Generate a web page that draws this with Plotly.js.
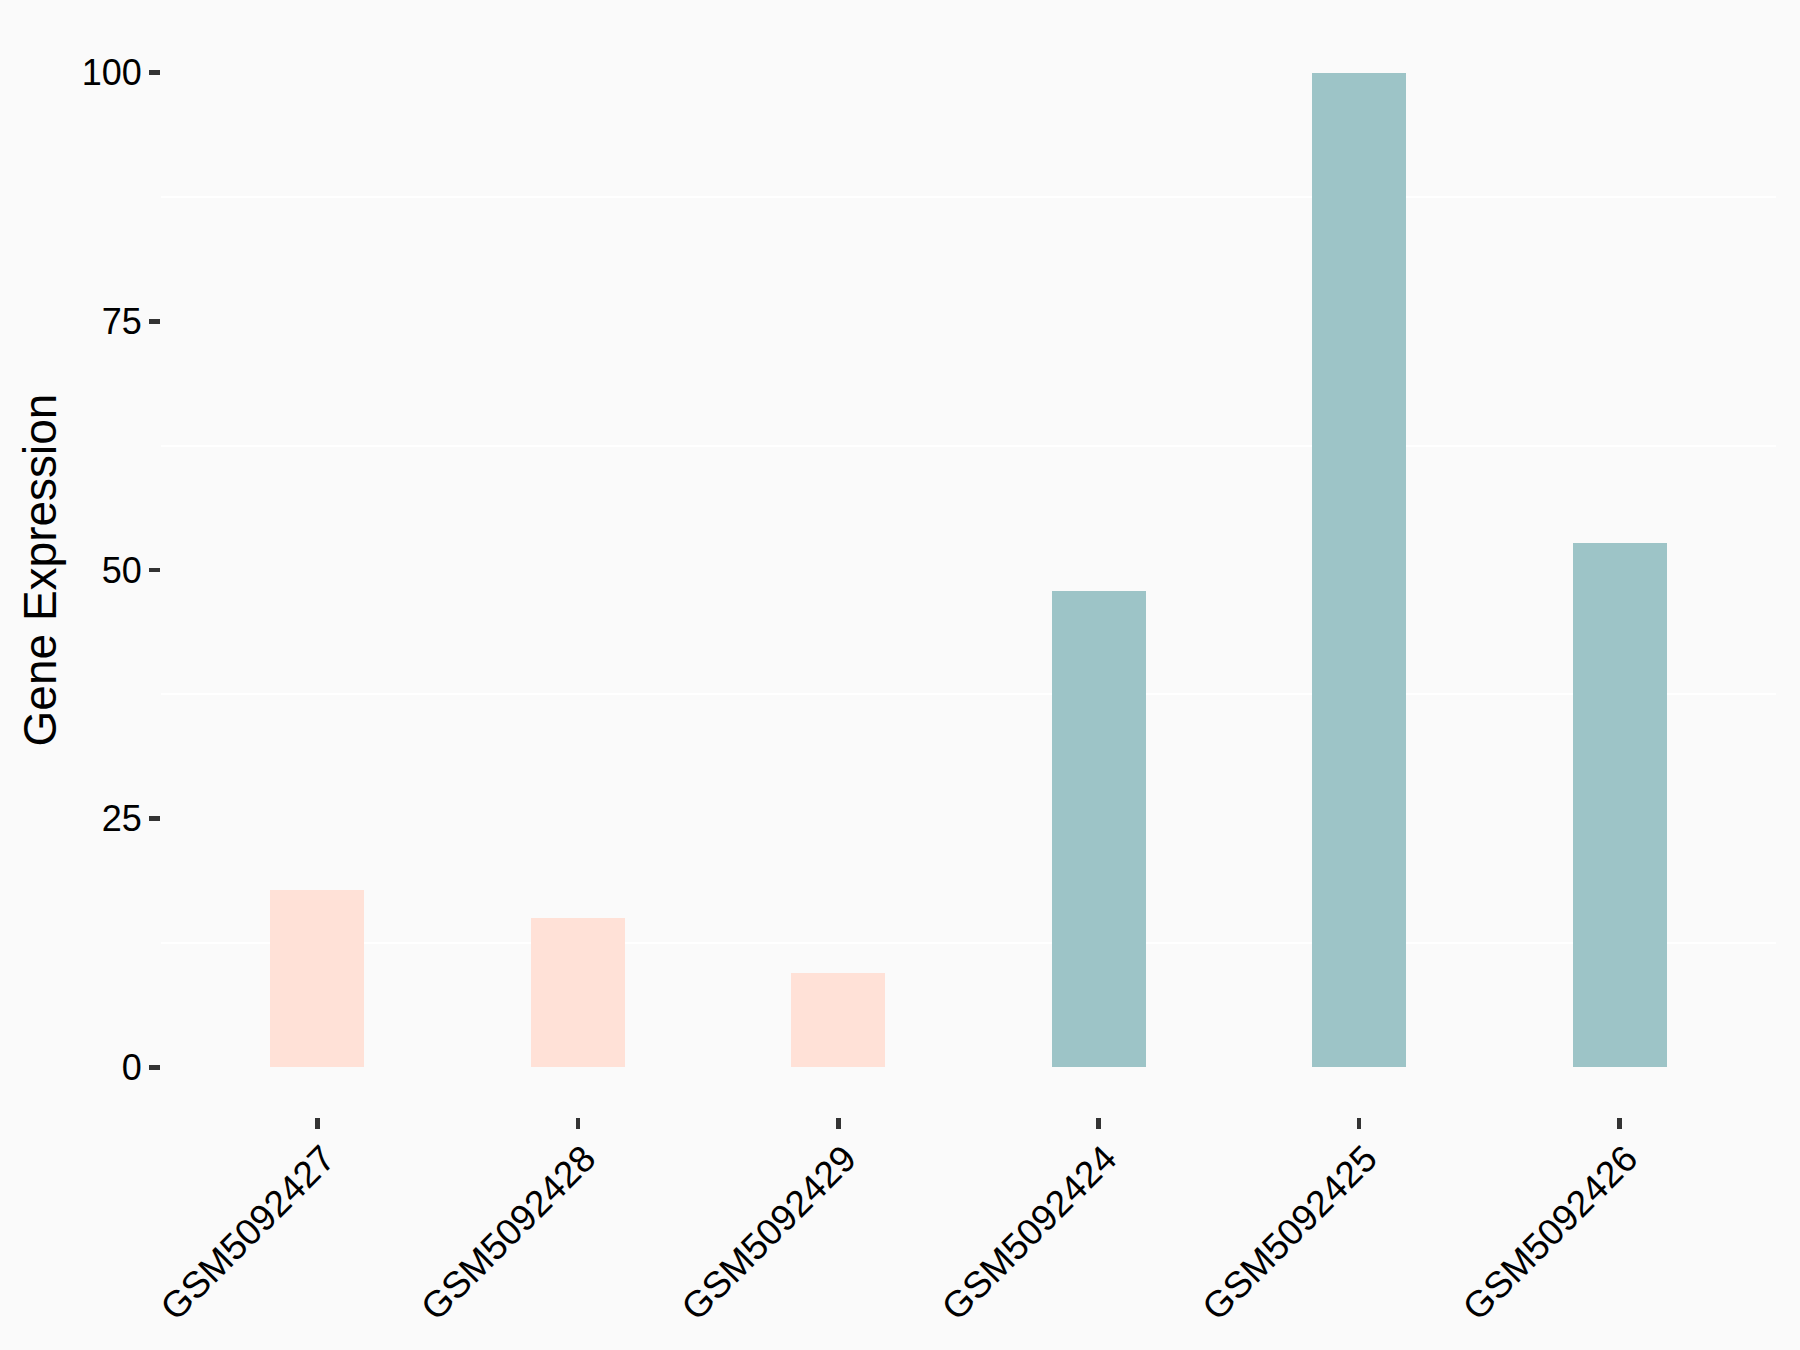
<!DOCTYPE html>
<html>
<head>
<meta charset="utf-8">
<script src="https://cdn.plot.ly/plotly-3.0.1.min.js"></script>
<style>html,body{margin:0;padding:0;background:#FAFAFA;}</style>
</head>
<body>
<div id="chart" style="width:1800px;height:1350px;"></div>
<script>
const samples = ["GSM5092427", "GSM5092428", "GSM5092429", "GSM5092424", "GSM5092425", "GSM5092426"];
const expression = [17.8, 15.0, 9.5, 47.9, 100, 52.7];
const groups = ["A", "A", "A", "B", "B", "B"];
const groupColors = {A: "#FFE1D7", B: "#9DC4C7"};
const yTicks = [0, 25, 50, 75, 100];

const trace = {
  type: "bar",
  x: samples,
  y: expression,
  width: 0.36,
  marker: {color: groups.map(g => groupColors[g]), line: {width: 0}},
  hoverinfo: "x+y"
};

const layout = {
  width: 1800,
  height: 1350,
  paper_bgcolor: "#FAFAFA",
  plot_bgcolor: "#FAFAFA",
  showlegend: false,
  margin: {l: 160.5, r: 24, t: 22.5, b: 232.6, pad: 0},
  font: {family: "Liberation Sans, Arial, sans-serif", color: "#000000"},
  xaxis: {
    type: "category",
    range: [-0.6, 5.6],
    showgrid: false,
    zeroline: false,
    showline: false,
    ticks: "outside",
    ticklen: 11,
    tickwidth: 4.5,
    tickcolor: "#333333",
    tickangle: -45,
    ticklabelshift: 7,
    ticklabelstandoff: -7,
    tickfont: {size: 37, color: "#000000"}
  },
  yaxis: {
    range: [-5, 105],
    tickvals: yTicks,
    ticktext: yTicks.map(String),
    showgrid: false,
    zeroline: false,
    showline: false,
    ticks: "outside",
    ticklen: 11,
    tickwidth: 4.5,
    tickcolor: "#333333",
    tickfont: {size: 36, color: "#000000"},
    minor: {tick0: 12.5, dtick: 25, showgrid: true, gridcolor: "#FFFFFF", gridwidth: 2, ticks: ""},
    title: {text: "Gene Expression", font: {size: 46, color: "#000000"}, standoff: 10}
  },
  bargap: 0
};

Plotly.newPlot("chart", [trace], layout, {displayModeBar: false, staticPlot: true});
</script>
</body>
</html>
